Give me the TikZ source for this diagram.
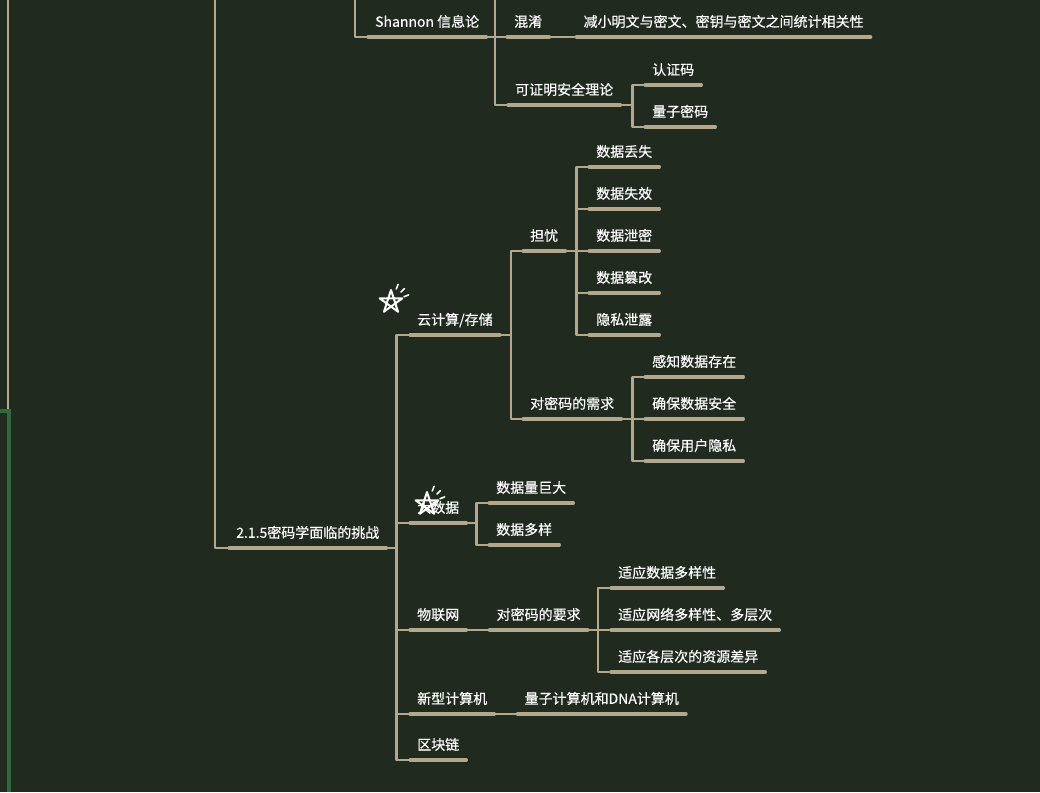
\documentclass[tikz,border=0pt]{standalone}
\usepackage{fontspec}
\setmainfont{Noto Sans CJK SC}[FakeBold=0.4]
\usetikzlibrary{positioning}
\definecolor{boardbg}{RGB}{32,42,31}
\definecolor{twig}{RGB}{178,168,142}
\definecolor{moss}{RGB}{46,106,60}
\tikzset{
  topic/.style={text=white, anchor=south west, inner xsep=7pt, inner ysep=8pt,
    text height=11pt, text depth=2pt, font=\fontsize{14}{16}\selectfont},
  uline/.style={draw=twig, line width=3.2pt, line cap=round},
  branch/.style={draw=twig, line width=2.2pt, line join=round},
  starmark/.pic={
    \draw[white, line width=2pt, line join=round]
      (-90:12) -- (54:12) -- (198:12) -- (342:12) -- (126:12) -- cycle;
    \foreach \a in {-68,-45,-22}
      \draw[white, line width=1.6pt, line cap=round] (\a:14) -- (\a:19);
  }
}

\begin{document}
\begin{tikzpicture}[x=1pt, y=-1pt]
  \fill[boardbg] (0,0) rectangle (1040,792);
  \useasboundingbox (0,0) rectangle (1040,792);

  % branches coming in from above the frame
  \coordinate (t1) at (8,0);
  \coordinate (b1) at (8,411);
  \coordinate (g0) at (0,411);
  \coordinate (g1) at (9,792);
  \coordinate (t2) at (215,0);
  \coordinate (t3) at (355,0);
  \coordinate (t4) at (495,0);

  % Shannon
  \node (shannon) [topic] at (368,37) {Shannon 信息论};
  \node (confusion) [topic] at (507,37) {混淆};
  \node (reduce) [topic,right=27pt of confusion.south east,anchor=south west] {减小明文与密文、密钥与密文之间统计相关性};
  \node (provable) [topic] at (508,105) {可证明安全理论};
  \node (authcode) [topic] at (645,85) {认证码};
  \node (qcrypto) [topic] at (645,127) {量子密码};

  % challenges
  \node (challenge) [topic] at (229,548) {2.1.5密码学面临的挑战};
  \node (cloud) [topic] at (410,335) {云计算/存储};
  \node (worry) [topic] at (523,251) {担忧};
  \node (loss) [topic] at (589,167) {数据丢失};
  \node (invalid) [topic] at (589,209) {数据失效};
  \node (leak) [topic] at (589,251) {数据泄密};
  \node (tamper) [topic] at (589,293) {数据篡改};
  \node (privacy) [topic] at (589,335) {隐私泄露};
  \node (demand) [topic] at (523,419) {对密码的需求};
  \node (sense) [topic] at (645,377) {感知数据存在};
  \node (secure) [topic] at (645,419) {确保数据安全};
  \node (userpriv) [topic] at (645,461) {确保用户隐私};
  \node (bigdata) [topic] at (410,523) {大数据};
  \node (huge) [topic] at (489,503) {数据量巨大};
  \node (diverse) [topic] at (489,545) {数据多样};
  \node (iot) [topic] at (410,630) {物联网};
  \node (iotreq) [topic,right=23pt of iot.south east,anchor=south west] {对密码的要求};
  \node (adaptdata) [topic] at (611,588) {适应数据多样性};
  \node (adaptnet) [topic] at (611,630) {适应网络多样性、多层次};
  \node (adaptres) [topic] at (611,672) {适应各层次的资源差异};
  \node (newcomp) [topic] at (410,714) {新型计算机};
  \node (quantum) [topic,right=23pt of newcomp.south east,anchor=south west] {量子计算机和DNA计算机};
  \node (chain) [topic] at (410,760) {区块链};

  \foreach \n in {shannon,confusion,reduce,provable,authcode,qcrypto,challenge,cloud,worry,
      loss,invalid,leak,tamper,privacy,demand,sense,secure,userpriv,bigdata,huge,diverse,
      iot,iotreq,adaptdata,adaptnet,adaptres,newcomp,quantum,chain}
    \draw[uline] (\n.south west) -- (\n.south east);

  \draw[branch] (t1) -- (b1);
  \draw[moss, line width=3.5pt] (g0) -| (g1);
  \draw[branch] (t2) |- (challenge.south west);
  \draw[branch] (t3) |- (shannon.south west);
  \draw[branch] (shannon.south east) -| (t4);
  \draw[branch] (shannon.south east) -- (confusion.south west);
  \draw[branch] (confusion.south east) -- (reduce.south west);
  \draw[branch] (t4) |- (provable.south west);
  \foreach \c in {authcode,qcrypto}
    \draw[branch] (provable.south east) -- ++(12,0) |- (\c.south west);

  \foreach \c in {cloud,bigdata,iot,newcomp,chain}
    \draw[branch] (challenge.south east) -- ++(10,0) |- (\c.south west);
  \foreach \c in {worry,demand}
    \draw[branch] (cloud.south east) -- ++(11,0) |- (\c.south west);
  \foreach \c in {loss,invalid,leak,tamper,privacy}
    \draw[branch] (worry.south east) -- ++(11,0) |- (\c.south west);
  \foreach \c in {sense,secure,userpriv}
    \draw[branch] (demand.south east) -- ++(11,0) |- (\c.south west);
  \foreach \c in {huge,diverse}
    \draw[branch] (bigdata.south east) -- ++(10,0) |- (\c.south west);
  \draw[branch] (iot.south east) -- (iotreq.south west);
  \foreach \c in {adaptdata,adaptnet,adaptres}
    \draw[branch] (iotreq.south east) -- ++(10,0) |- (\c.south west);
  \draw[branch] (newcomp.south east) -- (quantum.south west);

  % marker icons
  \pic at (391,302) {starmark};
  \pic at (427,504) {starmark};
\end{tikzpicture}
\end{document}
